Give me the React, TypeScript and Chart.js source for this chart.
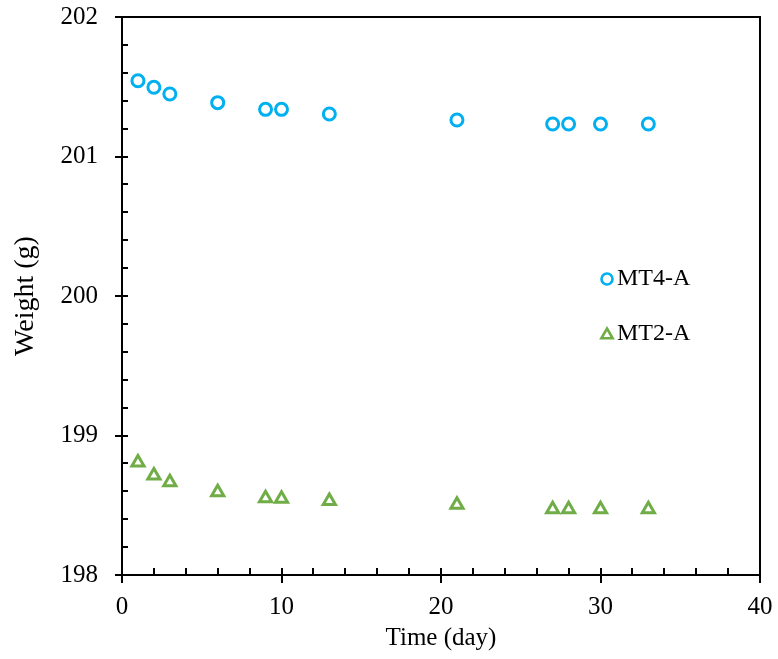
import React, { useEffect, useRef } from "react";
import { Chart, registerables } from "chart.js";

Chart.register(...registerables);

const days = [1, 2, 3, 6, 9, 10, 13, 21, 27, 28, 30, 33];
const mt4a = [201.543, 201.496, 201.448, 201.386, 201.338, 201.338, 201.305, 201.262, 201.233, 201.233, 201.233, 201.233];
const mt2a = [198.806, 198.714, 198.665, 198.594, 198.551, 198.546, 198.53, 198.503, 198.471, 198.471, 198.471, 198.471];
const seriesNames = ["MT4-A", "MT2-A"];
const seriesColors = ["#00B0F0", "#70AD47"];

const FONT = "'Liberation Serif', 'Times New Roman', serif";

const framePlugin = {
  id: "frame",
  afterDraw(chart: any) {
    const { ctx, chartArea: a, scales } = chart;
    const x = scales.x;
    const y = scales.y;
    ctx.save();
    ctx.strokeStyle = "#000";
    ctx.lineWidth = 2;
    ctx.strokeRect(a.left, a.top, a.right - a.left, a.bottom - a.top);
    ctx.beginPath();
    // x ticks
    for (let v = x.min; v <= x.max + 1e-9; v += 2) {
      const px = Math.round(x.getPixelForValue(v));
      const major = Math.abs(v % 10) < 1e-9;
      if (v === x.min || v === x.max) {
        if (major) {
          ctx.moveTo(px, a.bottom);
          ctx.lineTo(px, a.bottom + 8);
        }
        continue;
      }
      ctx.moveTo(px, major ? a.bottom + 8 : a.bottom);
      ctx.lineTo(px, a.bottom - 7);
    }
    // y ticks
    for (let i = 0; i <= 20; i++) {
      const v = y.min + i * 0.2;
      const py = Math.round(y.getPixelForValue(v));
      const major = i % 5 === 0;
      if (i === 0 || i === 20) {
        ctx.moveTo(a.left - 7, py);
        ctx.lineTo(a.left, py);
        continue;
      }
      ctx.moveTo(major ? a.left - 7 : a.left, py);
      ctx.lineTo(a.left + 6, py);
    }
    ctx.stroke();

    // legend
    const items = [
      { y: 279, style: "circle" },
      { y: 334, style: "triangle" },
    ];
    ctx.font = `24px ${FONT}`;
    ctx.textBaseline = "middle";
    ctx.textAlign = "left";
    items.forEach((it, i) => {
      const cx = 607;
      ctx.strokeStyle = seriesColors[i];
      ctx.lineWidth = 2.6;
      ctx.beginPath();
      if (it.style === "circle") {
        ctx.arc(cx, it.y, 5.5, 0, Math.PI * 2);
      } else {
        const r = 6.5;
        const cy = it.y + 1;
        for (let k = 0; k < 3; k++) {
          const ang = (k * 2 * Math.PI) / 3;
          const px = cx + Math.sin(ang) * r;
          const py = cy - Math.cos(ang) * r;
          if (k === 0) ctx.moveTo(px, py);
          else ctx.lineTo(px, py);
        }
        ctx.closePath();
      }
      ctx.stroke();
      ctx.fillStyle = "#000";
      ctx.fillText(seriesNames[i], 617, it.y);
    });
    ctx.restore();
  },
};

export default function App() {
  const ref = useRef<HTMLCanvasElement>(null);
  useEffect(() => {
    document.body.style.margin = "0";
    const canvas = ref.current!;
    const zeroPad = (s: any) => {
      s.paddingTop = 0;
      s.paddingBottom = 0;
      s.paddingLeft = 0;
      s.paddingRight = 0;
    };
    const chart = new Chart(canvas, {
      type: "scatter",
      data: {
        datasets: [
          {
            label: seriesNames[0],
            data: days.map((d, i) => ({ x: d, y: mt4a[i] })),
            pointStyle: "circle",
            pointRadius: 6,
            pointBorderWidth: 3,
            borderColor: seriesColors[0],
            backgroundColor: "rgba(0,0,0,0)",
          },
          {
            label: seriesNames[1],
            data: days.map((d, i) => ({ x: d, y: mt2a[i] })),
            pointStyle: "triangle",
            pointRadius: 7,
            pointBorderWidth: 3,
            borderColor: seriesColors[1],
            backgroundColor: "rgba(0,0,0,0)",
          },
        ],
      },
      options: {
        animation: false,
        responsive: false,
        layout: { padding: { left: 0, right: 18, top: 17, bottom: 0 } },
        plugins: { legend: { display: false }, tooltip: { enabled: false } },
        scales: {
          x: {
            type: "linear",
            min: 0,
            max: 40,
            grid: { display: false, drawTicks: false },
            border: { display: false },
            ticks: {
              stepSize: 10,
              color: "#000",
              font: { family: FONT, size: 25 },
              padding: 17,
              maxRotation: 0,
            },
            title: {
              display: true,
              text: "Time (day)",
              color: "#000",
              font: { family: FONT, size: 25 },
              padding: { top: 0, bottom: 6 },
            },
            afterFit: (s: any) => {
              s.height = 84;
              zeroPad(s);
            },
          },
          y: {
            type: "linear",
            min: 198,
            max: 202,
            grid: { display: false, drawTicks: false },
            border: { display: false },
            ticks: {
              stepSize: 1,
              color: "#000",
              font: { family: FONT, size: 25 },
              padding: 24,
            },
            title: {
              display: true,
              text: "Weight (g)",
              color: "#000",
              font: { family: FONT, size: 28 },
              padding: { top: 9, bottom: 0 },
            },
            afterFit: (s: any) => {
              s.width = 122;
              zeroPad(s);
            },
          },
        },
      },
      plugins: [framePlugin],
    });
    return () => chart.destroy();
  }, []);
  return (
    <div style={{ width: 778, height: 659 }}>
      <canvas ref={ref} width={778} height={659} style={{ display: "block" }} />
    </div>
  );
}
